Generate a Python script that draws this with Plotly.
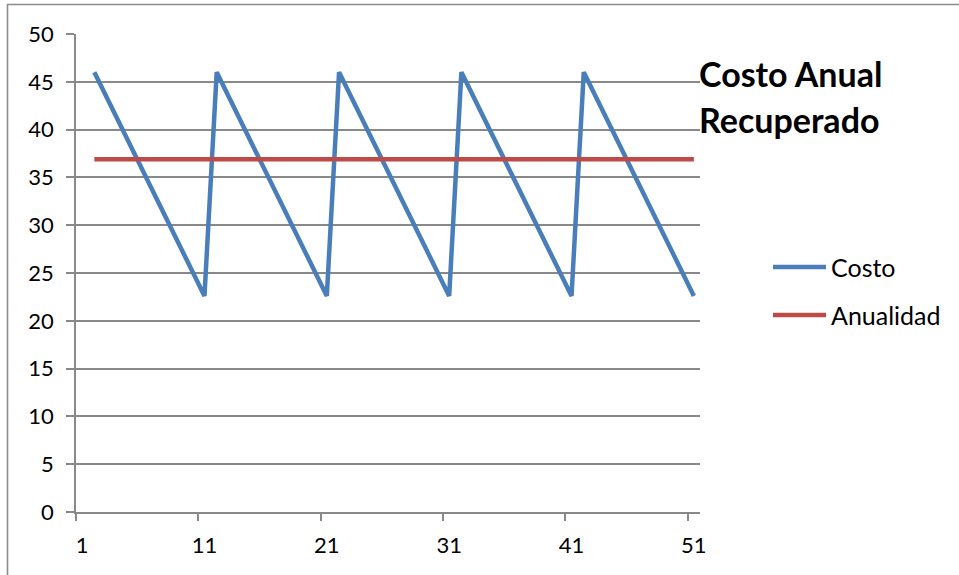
import plotly.graph_objects as go

# Periods shown on the category axis
periodo = list(range(1, 52))

# Yearly cost of the asset (no value in the first period)
costo = [
    None,
    46.0, 43.4, 40.8, 38.2, 35.6, 33.0, 30.4, 27.8, 25.2, 22.6,
    46.0, 43.4, 40.8, 38.2, 35.6, 33.0, 30.4, 27.8, 25.2, 22.6,
    46.0, 43.4, 40.8, 38.2, 35.6, 33.0, 30.4, 27.8, 25.2, 22.6,
    46.0, 43.4, 40.8, 38.2, 35.6, 33.0, 30.4, 27.8, 25.2, 22.6,
    46.0, 43.4, 40.8, 38.2, 35.6, 33.0, 30.4, 27.8, 25.2, 22.6,
]

# Equivalent annuity
anualidad = [
    None,
    36.9, 36.9, 36.9, 36.9, 36.9, 36.9, 36.9, 36.9, 36.9, 36.9,
    36.9, 36.9, 36.9, 36.9, 36.9, 36.9, 36.9, 36.9, 36.9, 36.9,
    36.9, 36.9, 36.9, 36.9, 36.9, 36.9, 36.9, 36.9, 36.9, 36.9,
    36.9, 36.9, 36.9, 36.9, 36.9, 36.9, 36.9, 36.9, 36.9, 36.9,
    36.9, 36.9, 36.9, 36.9, 36.9, 36.9, 36.9, 36.9, 36.9, 36.9,
]

x_labels = [1, 11, 21, 31, 41, 51]
y_ticks = [0, 5, 10, 15, 20, 25, 30, 35, 40, 45, 50]

titulo = ["Costo Anual", "Recuperado"]
series_names = ["Costo", "Anualidad"]

BLUE = "#4A7EBB"
RED = "#BE4B48"
GRID = "#898989"
FONT = "Lato, 'Liberation Sans', sans-serif"

W, H = 959, 575
L, R, T, B = 76, 700, 34, 512


def px(xp):
    return (xp - L) / (R - L)


def py(yp):
    return (B - yp) / (B - T)


fig = go.Figure()
fig.add_trace(go.Scatter(x=periodo, y=costo, mode="lines", name=series_names[0],
                         line=dict(color=BLUE, width=4.5), connectgaps=False,
                         showlegend=False))
fig.add_trace(go.Scatter(x=periodo, y=anualidad, mode="lines", name=series_names[1],
                         line=dict(color=RED, width=4.5), connectgaps=False,
                         showlegend=False))
# invisible trace to carry the label axis
fig.add_trace(go.Scatter(x=[periodo[0]], y=[None], xaxis="x2", showlegend=False,
                         hoverinfo="skip"))

x_range = [0.5, len(periodo) + 0.5]

shapes = [
    # outer chart border
    dict(type="rect", xref="paper", yref="paper",
         x0=px(7.5), x1=px(968), y0=py(4.5), y1=py(585),
         line=dict(color="#8C8C8C", width=1.6), layer="below"),
]

annotations = []
for txt, yc in zip(titulo, [73, 119]):
    annotations.append(dict(text="<b>%s</b>" % txt, xref="paper", yref="paper",
                            x=px(697), y=py(yc), xanchor="left", yanchor="middle",
                            showarrow=False,
                            font=dict(family=FONT, size=34, color="#000000")))

for name, color, yc in zip(series_names, [BLUE, RED], [267, 315]):
    shapes.append(dict(type="line", xref="paper", yref="paper",
                       x0=px(773), x1=px(826), y0=py(yc), y1=py(yc),
                       line=dict(color=color, width=4.5)))
    annotations.append(dict(text=name, xref="paper", yref="paper",
                            x=px(829), y=py(yc), xanchor="left", yanchor="middle",
                            showarrow=False,
                            font=dict(family=FONT, size=25, color="#000000")))

fig.update_layout(
    width=W, height=H,
    margin=dict(l=L, r=W - R, t=T, b=H - B),
    paper_bgcolor="white", plot_bgcolor="white",
    showlegend=False,
    font=dict(family=FONT, size=22, color="#000000"),
    xaxis=dict(range=x_range, tickmode="array",
               tickvals=[v - 0.5 for v in x_labels],
               showticklabels=False, ticks="outside", ticklen=7,
               tickwidth=1.5, tickcolor=GRID,
               showgrid=False, zeroline=False,
               showline=True, linecolor=GRID, linewidth=1.5),
    xaxis2=dict(range=x_range, overlaying="x", anchor="y", side="bottom",
                tickmode="array", tickvals=x_labels,
                ticktext=[str(v) for v in x_labels],
                ticks="", showgrid=False, zeroline=False, showline=False,
                ticklabelstandoff=18,
                tickfont=dict(family=FONT, size=22, color="#000000")),
    yaxis=dict(range=[0, 50], tickmode="array", tickvals=y_ticks,
               ticks="outside", ticklen=8, tickwidth=1.5, tickcolor=GRID,
               showgrid=True, gridcolor=GRID, gridwidth=1.5,
               zeroline=False, showline=True, linecolor=GRID, linewidth=1.5,
               ticklabelstandoff=8,
               tickfont=dict(family=FONT, size=22, color="#000000")),
    shapes=shapes,
    annotations=annotations,
)

fig.write_html("out.html")
